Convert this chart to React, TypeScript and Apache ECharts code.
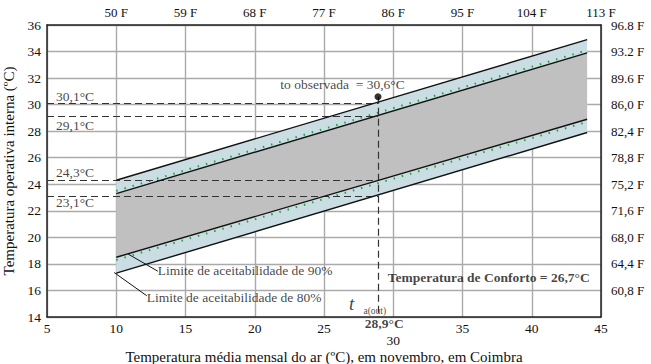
import React, { useEffect, useRef } from 'react';
import * as echarts from 'echarts';

// ---- data ----
const lineX = [10, 44];
const upper80 = [24.3, 34.9];
const upper90 = [23.3, 33.9];
const lower90 = [18.5, 28.9];
const lower80 = [17.3, 27.9];
const dotsUpper = [23.5, 34.1];
const dotsLower = [18.3, 28.7];

const tOut = 28.9;
const observed = 30.6;
const guideValues = [30.1, 29.1, 24.3, 23.1];

const bottomTicks = [5, 10, 15, 20, 25, 30, 35, 40, 45];
const topLabels = ['', '50 F', '59 F', '68 F', '77 F', '86 F', '95 F', '104 F', '113 F'];
const leftTicks = [14, 16, 18, 20, 22, 24, 26, 28, 30, 32, 34, 36];
const rightLabels = ['', '60,8 F', '64,4 F', '68,0 F', '71,6 F', '75,2 F', '78,8 F', '82,4 F', '86,0 F', '89.6 F', '93.2 F', '96.8 F'];

const xTitle = 'Temperatura média mensal do ar (ºC), em novembro, em Coimbra';
const yTitle = 'Temperatura operativa interna (ºC)';

const FONT = 'Liberation Serif, DejaVu Serif, serif';
const BLUE = '#c9dde3';
const GREY = '#c0c0c0';

const pairs = (ys: number[]) => lineX.map((x, i) => [x, ys[i]]);

type Note = { text: string; at: [number, number]; pos?: string; size?: number; bold?: boolean; italic?: boolean };
const notes: Note[] = [
  { text: '30,1°C', at: [5.65, 30.65] },
  { text: '29,1°C', at: [5.65, 28.46] },
  { text: '24,3°C', at: [5.65, 24.87] },
  { text: '23,1°C', at: [5.65, 22.59] },
  { text: 'to observada  = 30,6°C', at: [21.85, 31.48] },
  { text: 'Limite de aceitabilidade de 90%', at: [13.0, 17.54] },
  { text: 'Limite de aceitabilidade de 80%', at: [12.2, 15.5] },
  { text: 'Temperatura de Conforto = 26,7°C', at: [29.6, 17.0], bold: true },
  { text: 't', at: [26.8, 15.0], size: 19, italic: true },
  { text: 'a(out)', at: [27.85, 14.42], size: 9.5 },
  { text: '28,9°C', at: [tOut + 0.45, 13.5], pos: 'inside', bold: true },
];

const leaders = [
  [[10.85, 18.75], [13.0, 17.45]],
  [[9.85, 17.35], [12.2, 15.6]],
];

export default function App() {
  const ref = useRef<HTMLDivElement>(null);
  useEffect(() => {
    if (!ref.current) return;
    const chart = echarts.init(ref.current, undefined, { renderer: 'svg' });
    const black = (ys: number[]) => ({
      type: 'line', data: pairs(ys), showSymbol: false, symbol: 'none',
      lineStyle: { color: '#111', width: 1.4 }, z: 5, silent: true,
    });
    const dotted = (ys: number[]) => ({
      type: 'line', data: pairs(ys), showSymbol: false, symbol: 'none',
      lineStyle: { color: '#1fa33a', width: 2, type: [1.5, 7] }, z: 4, silent: true,
    });
    const band = (lo: number[], hi: number[], color: string) => ({
      type: 'custom', data: [0], silent: true, z: 2,
      renderItem: (_p: any, api: any) => {
        const pts = [
          api.coord([lineX[0], lo[0]]),
          api.coord([lineX[1], lo[1]]),
          api.coord([lineX[1], hi[1]]),
          api.coord([lineX[0], hi[0]]),
        ];
        return { type: 'polygon', shape: { points: pts }, style: { fill: color, stroke: 'none' } };
      },
    });
    const dash = { color: '#333', width: 1.2, type: [7, 4] };
    const markData: any[] = guideValues.map((v) => [
      { coord: [5, v], lineStyle: dash },
      { coord: [tOut, v] },
    ]);
    markData.push([{ coord: [tOut, observed], lineStyle: dash }, { coord: [tOut, 14] }]);
    leaders.forEach((l) =>
      markData.push([{ coord: l[0], lineStyle: { color: '#111', width: 1, type: 'solid' } }, { coord: l[1] }])
    );

    chart.setOption({
      animation: false,
      backgroundColor: '#fff',
      textStyle: { fontFamily: FONT },
      grid: { left: 47, right: 50, top: 25, bottom: 47, outerBoundsMode: 'none', containLabel: false },
      graphic: [
        {
          type: 'text', x: 324, y: 356.5, silent: true,
          style: { text: xTitle, font: `15px ${FONT}`, fill: '#111', align: 'center', verticalAlign: 'middle' },
        },
      ],
      xAxis: [
        {
          type: 'value', position: 'bottom', min: 5, max: 45, interval: 5,
          axisLine: { show: true, onZero: false, lineStyle: { color: '#222', width: 1.5 } },
          axisTick: { show: false },
          axisLabel: {
            fontFamily: FONT, fontSize: 13.5, color: '#111', margin: 6, lineHeight: 11.5,
            formatter: (v: number) => (bottomTicks.includes(v) ? (v === 30 ? '\n' + v : String(v)) : ''),
          },
          splitLine: { show: true, lineStyle: { color: '#aaa', width: 1.4 } },
        },
        {
          type: 'value', position: 'top', min: 5, max: 45, interval: 5,
          axisLine: { show: true, onZero: false, lineStyle: { color: '#222', width: 1.5 } },
          axisTick: { show: false },
          axisLabel: {
            fontFamily: FONT, fontSize: 13, color: '#111', margin: 6,
            formatter: (v: number) => topLabels[Math.round((v - 5) / 5)] ?? '',
          },
          splitLine: { show: false },
        },
      ],
      yAxis: [
        {
          type: 'value', position: 'left', min: 14, max: 36, interval: 2,
          name: yTitle, nameLocation: 'middle', nameGap: 25, nameRotate: 90,
          nameTextStyle: { fontFamily: FONT, fontSize: 15, color: '#111' },
          axisLine: { show: true, onZero: false, lineStyle: { color: '#222', width: 1.5 } },
          axisTick: { show: false },
          axisLabel: {
            fontFamily: FONT, fontSize: 13.5, color: '#111', margin: 6,
            formatter: (v: number) => (leftTicks.includes(v) ? String(v) : ''),
          },
          splitLine: { show: true, lineStyle: { color: '#aaa', width: 1.4 } },
        },
        {
          type: 'value', position: 'right', min: 14, max: 36, interval: 2,
          axisLine: { show: true, onZero: false, lineStyle: { color: '#222', width: 1.5 } },
          axisTick: { show: false },
          axisLabel: {
            fontFamily: FONT, fontSize: 13, color: '#111', margin: 10,
            formatter: (v: number) => rightLabels[Math.round((v - 14) / 2)] ?? '',
          },
          splitLine: { show: false },
        },
      ],
      series: [
        band(lower80, lower90, BLUE),
        band(lower90, upper90, GREY),
        band(upper90, upper80, BLUE),
        dotted(dotsUpper),
        dotted(dotsLower),
        black(upper80),
        black(upper90),
        black(lower90),
        black(lower80),
        {
          type: 'line', data: [], silent: true, z: 6,
          markLine: { symbol: 'none', silent: true, label: { show: false }, data: markData, animation: false },
        },
        {
          type: 'scatter', data: [[tOut, observed]], symbolSize: 7,
          itemStyle: { color: '#000' }, z: 7, silent: true,
        },
        {
          type: 'scatter', symbolSize: 0, clip: false, silent: true, z: 8,
          data: notes.map((n) => ({
            value: n.at,
            label: {
              show: true, formatter: n.text, position: n.pos || 'right', distance: 0,
              fontFamily: FONT, fontSize: n.size || 13.5, color: '#111',
              fontWeight: n.bold ? 'bold' : 'normal', fontStyle: n.italic ? 'italic' : 'normal',
            },
          })),
        },
      ],
    });
    return () => chart.dispose();
  }, []);
  return <div ref={ref} style={{ position: 'fixed', left: 0, top: 0, width: 651, height: 364 }} />;
}
